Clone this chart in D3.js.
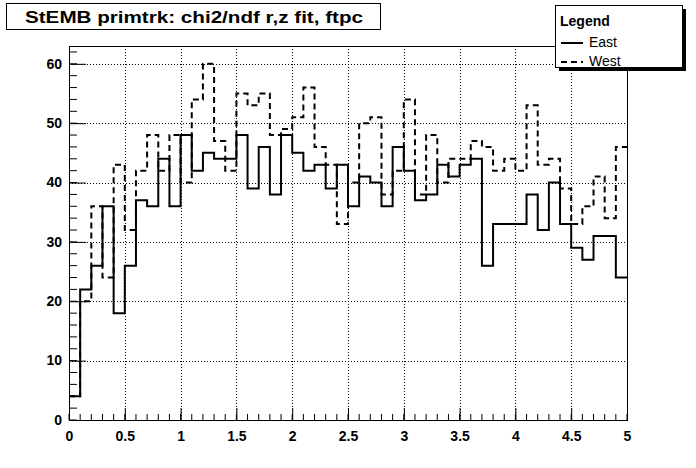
<!DOCTYPE html>
<html>
<head>
<meta charset="utf-8">
<script src="https://cdn.jsdelivr.net/npm/d3@7"></script>
<style>
  body { margin: 0; background: #fff; }
  svg { display: block; font-family: "Liberation Sans", Arial, sans-serif; }
</style>
</head>
<body>
<svg id="chart" width="696" height="468"></svg>
<script>
// bin contents, 50 bins of width 0.1 over [0, 5]
const binEdges = [0, 5];
const nBins = 50;
const east = [4, 22, 26, 36, 18, 26, 37, 36, 44, 36,
  48, 42, 45, 44, 44, 48, 39, 46, 38, 48,
  45, 42, 43, 39, 43, 36, 41, 40, 36, 46,
  42, 37, 38, 43, 41, 43, 44, 26, 33, 33,
  33, 38, 32, 40, 33, 29, 27, 31, 31, 24];
const west = [4, 20, 36, 24, 43, 32, 42, 48, 42, 48,
  40, 54, 60, 47, 42, 55, 53, 55, 48, 49,
  51, 56, 46, 43, 33, 40, 50, 51, 38, 42,
  54, 38, 48, 40, 44, 44, 47, 46, 42, 44,
  42, 53, 43, 44, 39, 33, 36, 41, 34, 46];
const xTicks = [0, 0.5, 1, 1.5, 2, 2.5, 3, 3.5, 4, 4.5, 5];
const yTicks = [0, 10, 20, 30, 40, 50, 60];
const yMax = 63;
const titleText = "StEMB primtrk: chi2/ndf r,z fit, ftpc";
const legendItems = [
  { label: "East", values: east, dash: null },
  { label: "West", values: west, dash: "6,4" }
];

const svg = d3.select("#chart");
const m = { left: 69, right: 627, top: 46, bottom: 420 };

const x = d3.scaleLinear().domain(binEdges).range([m.left, m.right]);
const y = d3.scaleLinear().domain([0, yMax]).range([m.bottom, m.top]);
const bw = (binEdges[1] - binEdges[0]) / nBins;

// grid
const grid = svg.append("g").attr("stroke", "#000").attr("stroke-width", 1)
  .attr("stroke-dasharray", "1,2");
grid.selectAll("line.gx").data(xTicks.slice(1, -1)).join("line")
  .attr("x1", d => Math.round(x(d)) + 0.5).attr("x2", d => Math.round(x(d)) + 0.5)
  .attr("y1", m.top).attr("y2", m.bottom);
grid.selectAll("line.gy").data(yTicks.slice(1)).join("line")
  .attr("y1", d => Math.round(y(d)) + 0.5).attr("y2", d => Math.round(y(d)) + 0.5)
  .attr("x1", m.left).attr("x2", m.right);

// histograms
const stepLine = d3.line().curve(d3.curveStepAfter)
  .x(d => x(d[0])).y(d => y(d[1]));
legendItems.slice().reverse().forEach(s => {
  const pts = s.values.map((v, i) => [binEdges[0] + i * bw, v]);
  pts.push([binEdges[1], s.values[s.values.length - 1]]);
  svg.append("path").attr("d", stepLine(pts))
    .attr("fill", "none").attr("stroke", "#000").attr("stroke-width", 2)
    .attr("stroke-dasharray", s.dash);
});

// frame
svg.append("rect").attr("x", m.left + 0.5).attr("y", m.top + 0.5)
  .attr("width", m.right - m.left).attr("height", m.bottom - m.top)
  .attr("fill", "none").attr("stroke", "#000");

// x axis
const xAxis = d3.axisBottom(x).tickValues(xTicks).tickSize(-12).tickPadding(18)
  .tickFormat(d3.format("~g"));
const gx = svg.append("g").attr("transform", `translate(0,${m.bottom})`).call(xAxis);
gx.select(".domain").remove();
const xMinor = d3.range(0, nBins + 1).map(i => binEdges[0] + i * bw);
gx.selectAll("line.minor").data(xMinor).join("line").attr("class", "minor")
  .attr("x1", d => x(d)).attr("x2", d => x(d)).attr("y1", 0).attr("y2", -6)
  .attr("stroke", "#000");

// y axis
const yAxis = d3.axisLeft(y).tickValues(yTicks).tickSize(-17).tickPadding(7);
const gy = svg.append("g").attr("transform", `translate(${m.left},0)`).call(yAxis);
gy.select(".domain").remove();
const yMinor = d3.range(0, yMax + 0.01, 2);
gy.selectAll("line.minor").data(yMinor).join("line").attr("class", "minor")
  .attr("y1", d => y(d)).attr("y2", d => y(d)).attr("x1", 0).attr("x2", 8)
  .attr("stroke", "#000");

svg.selectAll(".tick text").attr("font-family", "Liberation Sans, Arial, sans-serif")
  .attr("font-weight", "bold").attr("font-size", 14).attr("fill", "#000");
gx.selectAll(".tick text").attr("dy", "0.2em");
gy.selectAll(".tick text").attr("dy", "0.3em");
svg.selectAll(".tick line").attr("stroke", "#000");

// title box
svg.append("rect").attr("x", 6.5).attr("y", 3.5).attr("width", 374).attr("height", 26)
  .attr("fill", "#fff").attr("stroke", "#000");
svg.append("text").attr("x", 25).attr("y", 23)
  .attr("textLength", 338).attr("lengthAdjust", "spacingAndGlyphs")
  .attr("font-weight", "bold").attr("font-size", 16).text(titleText);

// legend
const lg = svg.append("g");
lg.append("rect").attr("x", 559).attr("y", 9).attr("width", 127).attr("height", 62)
  .attr("fill", "#000");
lg.append("rect").attr("x", 555.5).attr("y", 5.5).attr("width", 127).attr("height", 62)
  .attr("fill", "#fff").attr("stroke", "#000");
lg.append("text").attr("x", 560).attr("y", 26).attr("font-weight", "bold")
  .attr("font-size", 14).text("Legend");
legendItems.forEach((s, i) => {
  const cy = 43 + i * 19;
  lg.append("line").attr("x1", 561).attr("x2", 583).attr("y1", cy).attr("y2", cy)
    .attr("stroke", "#000").attr("stroke-width", 2).attr("stroke-dasharray", s.dash);
  lg.append("text").attr("x", 589).attr("y", cy + 4).attr("font-size", 14).text(s.label);
});
</script>
</body>
</html>
